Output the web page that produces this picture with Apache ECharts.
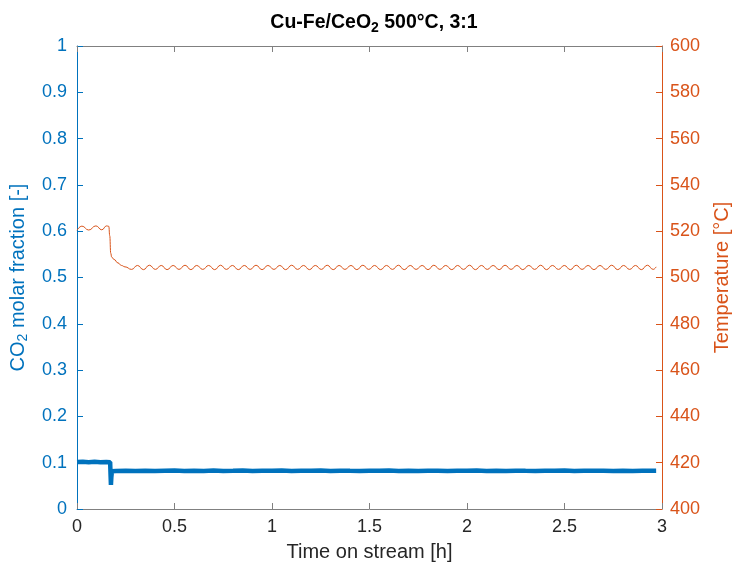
<!DOCTYPE html>
<html>
<head>
<meta charset="utf-8">
<script src="https://cdn.jsdelivr.net/npm/echarts@6/dist/echarts.min.js"></script>
<style>
html,body{margin:0;padding:0;background:#fff;}
#main{width:732px;height:571px;}
</style>
</head>
<body>
<div id="main"></div>
<script>
// Time axis ticks (h), left axis ticks, right axis ticks
const xTicks = [0, 0.5, 1, 1.5, 2, 2.5, 3];
const leftTicks = [0, 0.1, 0.2, 0.3, 0.4, 0.5, 0.6, 0.7, 0.8, 0.9, 1];
const rightTicks = [400, 420, 440, 460, 480, 500, 520, 540, 560, 580, 600];

// CO2 molar fraction series
const co2Time = [0, 0.03, 0.06, 0.09, 0.12, 0.15, 0.170, 0.172, 0.174, 0.176, 0.179, 0.20, 0.25, 0.30, 0.35, 0.40, 0.45, 0.50, 0.55, 0.60, 0.65, 0.70, 0.75, 0.80, 0.85, 0.90, 0.95, 1.00, 1.05, 1.10, 1.15, 1.20, 1.25, 1.30, 1.35, 1.40, 1.45, 1.50, 1.55, 1.60, 1.65, 1.70, 1.75, 1.80, 1.85, 1.90, 1.95, 2.00, 2.05, 2.10, 2.15, 2.20, 2.25, 2.30, 2.35, 2.40, 2.45, 2.50, 2.55, 2.60, 2.65, 2.70, 2.75, 2.80, 2.85, 2.90, 2.95, 2.97];
const co2Val = [0.1015, 0.102, 0.1012, 0.1018, 0.101, 0.1016, 0.1012, 0.075, 0.052, 0.068, 0.0815, 0.0822, 0.0826, 0.082, 0.0828, 0.0822, 0.0826, 0.083, 0.0822, 0.0827, 0.0821, 0.0829, 0.0823, 0.0826, 0.0831, 0.0822, 0.0827, 0.0825, 0.0829, 0.0821, 0.0826, 0.0824, 0.0829, 0.0822, 0.0828, 0.0824, 0.0821, 0.0827, 0.0825, 0.083, 0.0823, 0.0827, 0.0822, 0.0828, 0.0825, 0.0821, 0.0827, 0.0824, 0.0829, 0.0822, 0.0826, 0.0823, 0.0828, 0.0824, 0.0821, 0.0827, 0.0825, 0.0829, 0.0822, 0.0826, 0.0824, 0.0828, 0.0821, 0.0826, 0.0823, 0.0827, 0.0824, 0.0825];

// Temperature series (°C)
const tempTime = [0, 0.025, 0.060, 0.097, 0.127, 0.152, 0.163, 0.168, 0.173, 0.178, 0.19, 0.21, 0.228, 0.246, 0.280, 0.310, 0.341, 0.371, 0.402, 0.432, 0.462, 0.493, 0.523, 0.554, 0.584, 0.614, 0.645, 0.675, 0.706, 0.736, 0.766, 0.797, 0.827, 0.858, 0.888, 0.918, 0.949, 0.979, 1.010, 1.040, 1.070, 1.101, 1.131, 1.162, 1.192, 1.222, 1.253, 1.283, 1.314, 1.344, 1.374, 1.405, 1.435, 1.466, 1.496, 1.526, 1.557, 1.587, 1.618, 1.648, 1.678, 1.709, 1.739, 1.770, 1.800, 1.830, 1.861, 1.891, 1.922, 1.952, 1.982, 2.013, 2.043, 2.074, 2.104, 2.134, 2.165, 2.195, 2.226, 2.256, 2.286, 2.317, 2.347, 2.378, 2.408, 2.438, 2.469, 2.499, 2.530, 2.560, 2.590, 2.621, 2.651, 2.682, 2.712, 2.742, 2.773, 2.803, 2.834, 2.864, 2.894, 2.925, 2.955, 2.970];
const tempVal = [520.4, 522.2, 520.5, 522.3, 520.6, 522.3, 522.1, 518.0, 510.5, 508.8, 507.8, 506.3, 505.2, 504.6, 503.5, 505.2, 503.4, 505.3, 503.5, 505.2, 503.4, 505.2, 503.5, 505.3, 503.4, 505.2, 503.5, 505.2, 503.4, 505.3, 503.5, 505.2, 503.4, 505.2, 503.5, 505.3, 503.4, 505.2, 503.5, 505.2, 503.4, 505.3, 503.5, 505.2, 503.4, 505.2, 503.5, 505.3, 503.4, 505.2, 503.5, 505.2, 503.4, 505.3, 503.5, 505.2, 503.4, 505.2, 503.5, 505.3, 503.4, 505.2, 503.5, 505.2, 503.4, 505.3, 503.5, 505.2, 503.4, 505.2, 503.5, 505.3, 503.4, 505.2, 503.5, 505.2, 503.4, 505.3, 503.5, 505.2, 503.4, 505.2, 503.5, 505.3, 503.4, 505.2, 503.5, 505.2, 503.4, 505.3, 503.5, 505.2, 503.4, 505.2, 503.5, 505.3, 503.4, 505.2, 503.5, 505.2, 503.4, 505.3, 503.5, 504.6];

const BLUE = '#0072BD';
const ORANGE = '#D95319';
const FONT = '"Liberation Sans", Arial, Helvetica, sans-serif';

const chart = echarts.init(document.getElementById('main'), null, {renderer: 'canvas'});

const co2Data = co2Time.map((t, i) => [t, co2Val[i]]);
const tempData = tempTime.map((t, i) => [t, tempVal[i]]);

chart.setOption({
  animation: false,
  backgroundColor: '#fff',
  title: {
    text: '{a|Cu-Fe/CeO}{s|2}{a| 500°C, 3:1}',
    left: 369, textAlign: 'center', top: 8,
    textStyle: {
      rich: {
        a: {fontFamily: FONT, fontSize: 19.5, fontWeight: 'bold', color: '#000', lineHeight: 22, verticalAlign: 'top'},
        s: {fontFamily: FONT, fontSize: 14, fontWeight: 'bold', color: '#000', lineHeight: 22, verticalAlign: 'bottom', padding: [7, 0, 0, 0]}
      }
    }
  },
  grid: {left: 77, right: 70, top: 46, bottom: 62, containLabel: false, outerBoundsMode: 'none'},
  xAxis: [{
    type: 'value', min: 0, max: 3, interval: 0.5, position: 'bottom',
    name: 'Time on stream [h]', nameLocation: 'middle', nameGap: 33,
    nameTextStyle: {fontFamily: FONT, fontSize: 20, color: '#262626'},
    axisLine: {onZero: false, lineStyle: {color: '#808080', width: 1}},
    axisTick: {inside: true, length: 6, lineStyle: {color: '#808080'}},
    axisLabel: {fontFamily: FONT, fontSize: 18, color: '#262626', margin: 9,
      formatter: v => String(xTicks.find(t => Math.abs(t - v) < 1e-9) ?? v)},
    splitLine: {show: false}
  }, {
    type: 'value', min: 0, max: 3, interval: 0.5, position: 'top',
    axisLine: {onZero: false, lineStyle: {color: '#808080', width: 1}},
    axisTick: {inside: true, length: 6, lineStyle: {color: '#808080'}},
    axisLabel: {show: false},
    splitLine: {show: false}
  }],
  yAxis: [{
    type: 'value', min: 0, max: 1, interval: 0.1, position: 'left',
    name: '{a|CO}{s|2}{a| molar fraction [-]}', nameLocation: 'middle', nameGap: 47, nameRotate: 90,
    nameTextStyle: {
      rich: {
        a: {fontFamily: FONT, fontSize: 20, color: BLUE, lineHeight: 22, verticalAlign: 'top'},
        s: {fontFamily: FONT, fontSize: 14, color: BLUE, lineHeight: 22, verticalAlign: 'bottom', padding: [7, 0, 0, 0]}
      }
    },
    axisLine: {show: true, onZero: false, lineStyle: {color: BLUE, width: 1}},
    axisTick: {show: true, inside: true, length: 6, lineStyle: {color: BLUE}},
    axisLabel: {fontFamily: FONT, fontSize: 18, color: BLUE, margin: 10,
      formatter: v => String(leftTicks.find(t => Math.abs(t - v) < 1e-9) ?? v)},
    splitLine: {show: false}
  }, {
    type: 'value', min: 400, max: 600, interval: 20, position: 'right',
    name: 'Temperature [°C]', nameLocation: 'middle', nameGap: 50, nameRotate: 90,
    nameTextStyle: {fontFamily: FONT, fontSize: 20, color: ORANGE},
    axisLine: {show: true, onZero: false, lineStyle: {color: ORANGE, width: 1}},
    axisTick: {show: true, inside: true, length: 6, lineStyle: {color: ORANGE}},
    axisLabel: {fontFamily: FONT, fontSize: 18, color: ORANGE, margin: 8,
      formatter: v => String(rightTicks.find(t => Math.abs(t - v) < 1e-9) ?? v)},
    splitLine: {show: false}
  }],
  series: [{
    name: 'CO2', type: 'line', xAxisIndex: 0, yAxisIndex: 0,
    data: co2Data, showSymbol: false, symbol: 'none',
    lineStyle: {color: BLUE, width: 4.5}, z: 3
  }, {
    name: 'Temperature', type: 'line', xAxisIndex: 0, yAxisIndex: 1,
    data: tempData, showSymbol: false, symbol: 'none',
    smooth: true, smoothMonotone: 'x',
    lineStyle: {color: ORANGE, width: 1}, z: 2
  }]
});
</script>
</body>
</html>
